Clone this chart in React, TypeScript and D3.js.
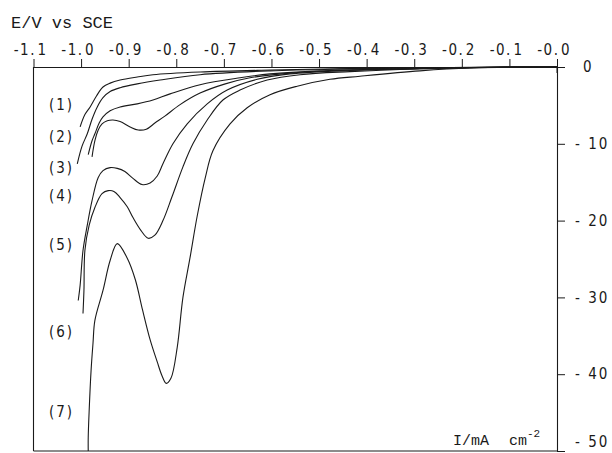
import { useEffect, useRef } from "react";
import * as d3 from "d3";

// potential (V vs SCE) ticks along the top axis
const xTicks = [-1.1, -1.0, -0.9, -0.8, -0.7, -0.6, -0.5, -0.4, -0.3, -0.2, -0.1, 0.0];
const xTickLabels = ["-1.1", "-1.0", "-0.9", "-0.8", "-0.7", "-0.6", "-0.5", "-0.4", "-0.3", "-0.2", "-0.1", "-0.0"];

// current density ticks on the right axis
const yTicks = [0, -10, -20, -30, -40, -50];
const yTickLabels = ["0", "-10", "-20", "-30", "-40", "-50"];

// [E, I], one array per curve
const curve1: [number, number][] = [
  [-1.002, -7.8], [-0.992, -6.2], [-0.981, -5.2], [-0.968, -3.8], [-0.954, -2.6],
  [-0.939, -2.1], [-0.918, -1.7], [-0.882, -1.3], [-0.849, -1.0], [-0.75, -0.65],
  [-0.603, -0.4], [-0.435, -0.2], [-0.225, -0.06], [0, 0],
];
const curve2: [number, number][] = [
  [-1.008, -12.6], [-0.998, -10.3], [-0.987, -8.7], [-0.977, -6.8], [-0.966, -5.2],
  [-0.954, -4.0], [-0.939, -3.2], [-0.918, -2.7], [-0.882, -2.2], [-0.834, -1.7],
  [-0.75, -1.0], [-0.603, -0.5], [-0.435, -0.25], [-0.225, -0.06], [0, 0],
];
const curve3: [number, number][] = [
  [-0.985, -11.4], [-0.977, -9.6], [-0.971, -8.7], [-0.962, -7.3], [-0.954, -6.5],
  [-0.939, -5.7], [-0.918, -5.2], [-0.882, -4.8], [-0.849, -4.3], [-0.813, -3.5],
  [-0.75, -2.3], [-0.666, -1.4], [-0.603, -0.9], [-0.498, -0.5], [-0.33, -0.26],
  [-0.183, -0.06], [0, 0],
];
const curve4: [number, number][] = [
  [-0.977, -11.7], [-0.971, -9.6], [-0.964, -8.2], [-0.956, -7.4], [-0.945, -7.0],
  [-0.933, -6.9], [-0.918, -7.1], [-0.897, -7.8], [-0.88, -8.2], [-0.863, -8.1],
  [-0.845, -7.3], [-0.824, -6.4], [-0.792, -4.9], [-0.75, -3.4], [-0.697, -2.2],
  [-0.645, -1.4], [-0.561, -0.8], [-0.435, -0.4], [-0.288, -0.2], [-0.162, -0.06], [0, 0],
];
const curve5: [number, number][] = [
  [-1.006, -30.4], [-1.002, -28.4], [-0.996, -23.9], [-0.987, -20.6], [-0.977, -17.4],
  [-0.964, -14.4], [-0.954, -13.5], [-0.939, -13.1], [-0.924, -13.2], [-0.908, -13.6],
  [-0.891, -14.5], [-0.872, -15.3], [-0.855, -15.1], [-0.84, -14.2], [-0.828, -12.6],
  [-0.807, -10.0], [-0.777, -7.4], [-0.735, -4.8], [-0.693, -3.0], [-0.63, -1.6],
  [-0.561, -0.9], [-0.435, -0.45], [-0.288, -0.2], [-0.141, -0.04], [0, 0],
];
const curve6: [number, number][] = [
  [-0.996, -32.1], [-0.994, -29.1], [-0.992, -23.9], [-0.983, -20.6], [-0.971, -18.3],
  [-0.956, -16.5], [-0.943, -16.1], [-0.931, -16.2], [-0.918, -17.0], [-0.903, -18.2],
  [-0.891, -19.6], [-0.874, -21.3], [-0.859, -22.3], [-0.845, -21.9], [-0.828, -20.0],
  [-0.809, -16.9], [-0.786, -13.0], [-0.765, -10.0], [-0.735, -6.9], [-0.702, -4.3],
  [-0.666, -3.0], [-0.609, -1.7], [-0.54, -1.0], [-0.435, -0.6], [-0.288, -0.26],
  [-0.12, -0.04], [0, 0],
];
const curve7: [number, number][] = [
  [-0.985, -50.0], [-0.985, -48.2], [-0.983, -44.7], [-0.979, -39.5], [-0.975, -36.0],
  [-0.971, -33.0], [-0.954, -29.1], [-0.939, -25.2], [-0.924, -23.0], [-0.903, -24.9],
  [-0.886, -27.7], [-0.871, -31.6], [-0.855, -35.5], [-0.84, -38.4], [-0.83, -40.2],
  [-0.821, -41.2], [-0.811, -40.5], [-0.798, -36.5], [-0.786, -30.0], [-0.771, -24.8],
  [-0.756, -19.4], [-0.739, -14.4], [-0.723, -10.9], [-0.687, -7.4], [-0.651, -5.3],
  [-0.603, -3.6], [-0.546, -2.5], [-0.477, -1.6], [-0.414, -1.2], [-0.288, -0.5],
  [-0.183, -0.13], [0, 0],
];
const curves = [curve1, curve2, curve3, curve4, curve5, curve6, curve7];

// curve labels, placed at the current level they sit beside
const curveLabels = ["(1)", "(2)", "(3)", "(4)", "(5)", "(6)", "(7)"];
const curveLabelLevels = [-4.9, -9.1, -13.1, -16.7, -23.2, -34.5, -44.9];
const curveLabelE = -1.041;

const W = 612;
const H = 453;
const plotFont = "'DejaVu Sans Condensed', 'Liberation Sans Narrow', sans-serif";
const monoFont = "'Liberation Mono', 'DejaVu Sans Mono', monospace";

export default function App() {
  const svgRef = useRef<SVGSVGElement>(null);

  useEffect(() => {
    if (!svgRef.current) return;
    const svg = d3.select(svgRef.current);
    svg.selectAll("*").remove();

    const x = d3.scaleLinear().domain([-1.1, 0]).range([33.5, 557]);
    const y = d3.scaleLinear().domain([0, -50]).range([67, 451]);

    const ink = "#1a1a1a";

    // frame: left and bottom borders
    svg.append("line")
      .attr("x1", x(-1.1)).attr("x2", x(-1.1))
      .attr("y1", y(0)).attr("y2", y(-50))
      .attr("stroke", ink).attr("stroke-width", 1.1);
    svg.append("line")
      .attr("x1", x(-1.1)).attr("x2", x(0))
      .attr("y1", y(-50)).attr("y2", y(-50))
      .attr("stroke", ink).attr("stroke-width", 1.1);

    // top axis (potential)
    const top = svg.append("g")
      .attr("transform", `translate(0,${y(0)})`)
      .call(d3.axisTop(x).tickValues(xTicks).tickSize(8).tickSizeOuter(0).tickFormat(() => ""));
    top.select(".domain").attr("stroke", ink).attr("stroke-width", 1.1);
    top.selectAll(".tick line").attr("stroke", ink).attr("stroke-width", 1);
    top.selectAll(".tick text").remove();
    // the 0.0 tick crosses the axis
    svg.append("line")
      .attr("x1", x(0)).attr("x2", x(0))
      .attr("y1", y(0)).attr("y2", y(0) + 6)
      .attr("stroke", ink);

    // decimal point of each label sits over its tick
    const xl = svg.append("g")
      .attr("font-family", plotFont)
      .attr("font-size", 15)
      .attr("fill", ink);
    xTicks.forEach((v, i) => {
      const [a, b] = xTickLabels[i].split(".");
      xl.append("text")
        .attr("x", x(v) + 2.5).attr("y", 55)
        .attr("text-anchor", "end")
        .attr("letter-spacing", 1.5)
        .text(a + ".");
      xl.append("text")
        .attr("x", x(v) + 4).attr("y", 55)
        .text(b);
    });

    // right axis (current density)
    const right = svg.append("g")
      .attr("transform", `translate(${x(0)},0)`)
      .call(d3.axisRight(y).tickValues(yTicks).tickSize(8).tickSizeOuter(0).tickFormat(() => ""));
    right.select(".domain").attr("stroke", ink).attr("stroke-width", 1.1);
    right.selectAll(".tick line").attr("stroke", ink).attr("stroke-width", 1);
    right.selectAll(".tick text").remove();

    const yl = svg.append("g")
      .attr("font-family", plotFont)
      .attr("font-size", 15)
      .attr("fill", ink);
    yTicks.forEach((v, i) => {
      const lbl = yTickLabels[i];
      // lowest label sits at the page edge; lift it so it stays whole
      const yy = v === -50 ? y(v) - 9 : y(v);
      yl.append("text")
        .attr("x", x(0) + (v < 0 ? 18 : 26))
        .attr("y", yy)
        .attr("dy", "0.35em")
        .attr("letter-spacing", 2)
        .text(v < 0 ? lbl.replace("-", "- ") : lbl);
    });

    // curves
    const line = d3.line<[number, number]>()
      .x(d => x(d[0]))
      .y(d => y(d[1]))
      .curve(d3.curveCatmullRom.alpha(0.5));

    svg.append("g")
      .selectAll("path")
      .data(curves)
      .join("path")
      .attr("d", d => line(d))
      .attr("fill", "none")
      .attr("stroke", ink)
      .attr("stroke-width", 1.1);

    // curve numbers
    svg.append("g")
      .attr("font-family", plotFont)
      .attr("font-size", 15)
      .attr("fill", ink)
      .selectAll("text")
      .data(curveLabels)
      .join("text")
      .attr("x", x(curveLabelE))
      .attr("y", (d, i) => y(curveLabelLevels[i]))
      .attr("dy", "0.35em")
      .attr("text-anchor", "middle")
      .attr("letter-spacing", 2)
      .text(d => d);

    // titles
    svg.append("text")
      .attr("x", 11).attr("y", 28)
      .attr("font-family", monoFont)
      .attr("font-size", 17)
      .attr("fill", ink)
      .text("E/V vs SCE");

    const unit = svg.append("text")
      .attr("x", 453).attr("y", 445)
      .attr("font-family", monoFont)
      .attr("font-size", 15)
      .attr("fill", ink);
    unit.append("tspan").text("I/mA");
    unit.append("tspan").attr("x", 509).text("cm");
    unit.append("tspan").attr("dy", -8).attr("font-size", 11).text("-2");
  }, []);

  return (
    <svg
      ref={svgRef}
      width={W}
      height={H}
      style={{ position: "absolute", left: 0, top: 0, background: "#fff" }}
    />
  );
}
